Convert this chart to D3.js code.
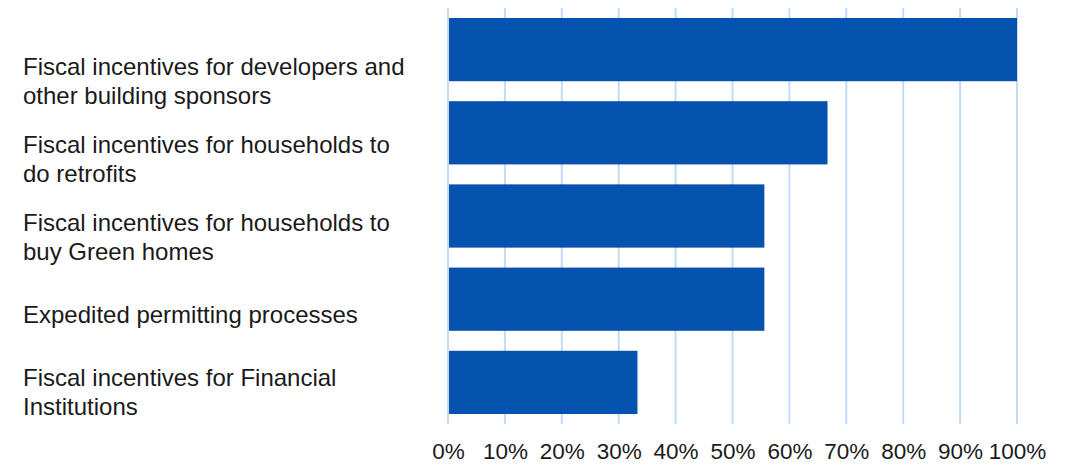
<!DOCTYPE html>
<html>
<head>
<meta charset="utf-8">
<script src="https://cdn.jsdelivr.net/npm/d3@7"></script>
<style>
  body { margin: 0; background: #fff; }
  text { font-family: "Liberation Sans", Arial, sans-serif; fill: #1a1a1a; }
</style>
</head>
<body>
<div id="chart"></div>
<script>
// data
var categories = [
  ["Fiscal incentives for developers and", "other building sponsors"],
  ["Fiscal incentives for households to", "do retrofits"],
  ["Fiscal incentives for households to", "buy Green homes"],
  ["Expedited permitting processes"],
  ["Fiscal incentives for Financial", "Institutions"]
];
var values = [100, 66.7, 55.6, 55.6, 33.3];
var xTicks = [0, 10, 20, 30, 40, 50, 60, 70, 80, 90, 100];

var width = 1074, height = 465;

var svg = d3.select("#chart").append("svg")
    .attr("width", width)
    .attr("height", height);

var ids = d3.range(categories.length);

var x = d3.scaleLinear()
    .domain([0, 100])
    .range([448, 1017]);

var y = d3.scaleBand()
    .domain(ids)
    .range([8, 424])
    .paddingInner(0.24)
    .paddingOuter(0.12);

// the category labels sit on their own, slightly tighter, column
var yLabel = d3.scalePoint()
    .domain(ids)
    .range([81, 392.5]);

// vertical grid
svg.append("g")
    .selectAll("line")
    .data(xTicks)
    .enter().append("line")
    .attr("x1", function(d) { return x(d); })
    .attr("x2", function(d) { return x(d); })
    .attr("y1", 8)
    .attr("y2", 424)
    .attr("stroke", "#c2dbf8")
    .attr("stroke-width", 2);

// bars
svg.append("g")
    .selectAll("rect")
    .data(values)
    .enter().append("rect")
    .attr("x", x(0) + 1)
    .attr("y", function(d, i) { return y(i); })
    .attr("width", function(d) { return x(d) - x(0) - 1; })
    .attr("height", y.bandwidth())
    .attr("fill", "#0553ae");

// x axis labels
var xAxis = d3.axisBottom(x)
    .tickValues(xTicks)
    .tickSize(0)
    .tickPadding(0)
    .tickFormat(function(d) { return d + "%"; });

var gx = svg.append("g")
    .attr("transform", "translate(0,443)")
    .call(xAxis);
gx.select(".domain").remove();
gx.selectAll("text")
    .attr("dy", "0.71em")
    .style("font-size", "22.5px")
    .style("fill", "#1a1a1a");

// category labels
var lineH = 29;
var lbl = svg.append("g")
    .selectAll("text")
    .data(categories)
    .enter().append("text")
    .attr("x", 23)
    .attr("y", function(d, i) { return yLabel(i) - (d.length - 1) * lineH / 2; })
    .style("font-size", "24px");

lbl.selectAll("tspan")
    .data(function(d) { return d; })
    .enter().append("tspan")
    .attr("x", 23)
    .attr("dy", function(d, i) { return i === 0 ? "0.35em" : lineH + "px"; })
    .text(function(d) { return d; });
</script>
</body>
</html>
